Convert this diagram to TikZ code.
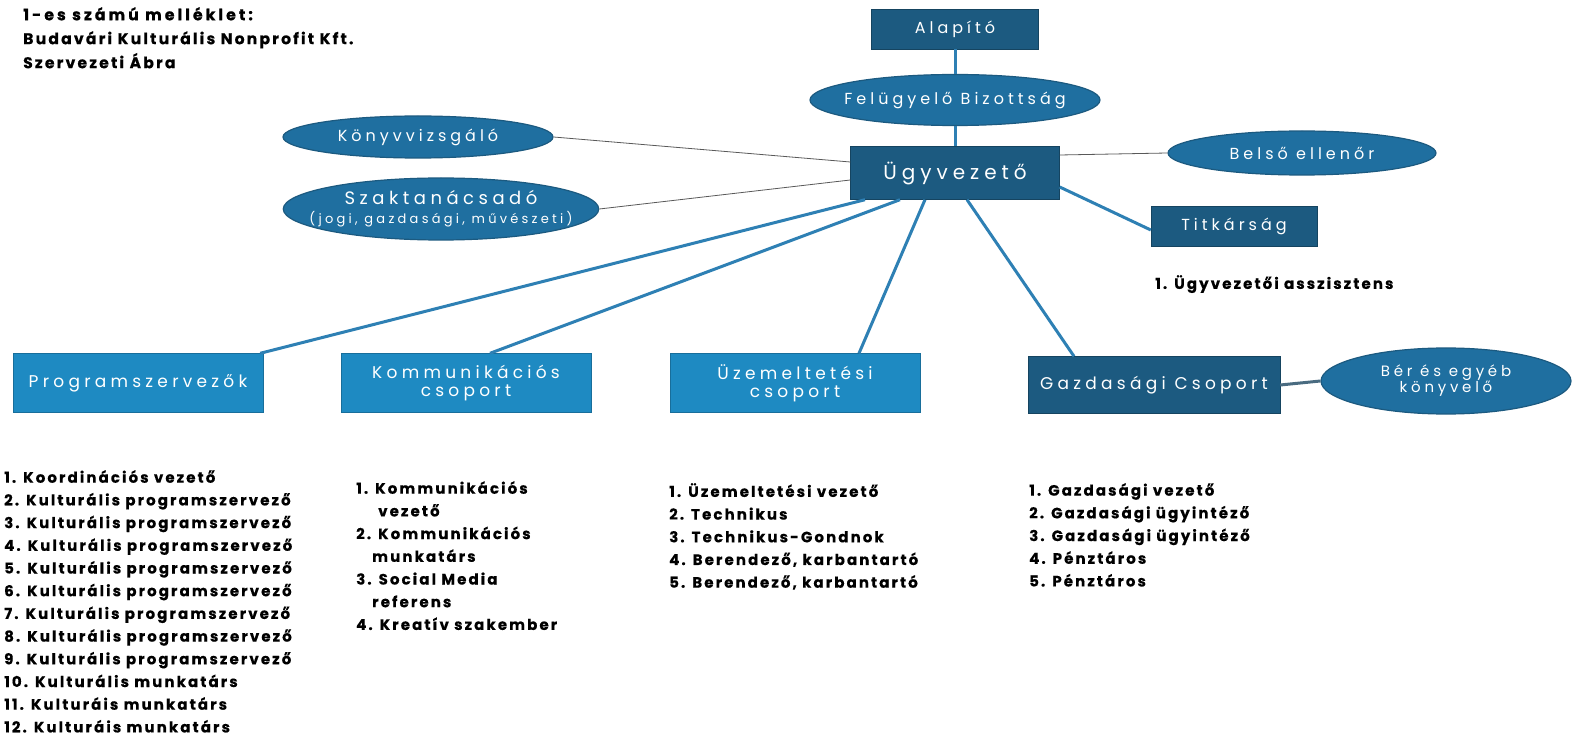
\documentclass[tikz,border=0pt]{standalone}
\usepackage{fontspec}
\setmainfont{Poppins}
\newfontfamily\dobozfont[LetterSpace=25]{Poppins}
\newfontfamily\listafont[LetterSpace=14, BoldFeatures={FakeBold=0.4}]{Poppins}
\newfontfamily\cimfont[LetterSpace=20, BoldFeatures={FakeBold=1.4}]{Poppins}
\usetikzlibrary{shapes.geometric}
\definecolor{sotetkek}{HTML}{1C5A80}
\definecolor{kek}{HTML}{1F6FA0}
\definecolor{vilagoskek}{HTML}{1E8AC2}
\definecolor{vonalkek}{HTML}{2E80B4}

\begin{document}
\begin{tikzpicture}[
    x=1pt, y=-1pt,
    sotetdoboz/.style={draw=sotetkek!75!black, fill=sotetkek, text=white, inner sep=0pt, align=center,
      font=\dobozfont\fontsize{16}{18}\selectfont},
    vilagosdoboz/.style={draw=vilagoskek!80!black, fill=vilagoskek, text=white, inner sep=0pt, align=center,
      minimum width=250pt, minimum height=59pt, font=\dobozfont\fontsize{17}{18}\selectfont},
    ellipszis/.style={ellipse, draw=sotetkek, line width=1.2pt, fill=kek, text=white, inner sep=0pt, align=center,
      font=\dobozfont\fontsize{16}{18}\selectfont},
    lista/.style={anchor=north west, inner sep=0pt, align=left,
      font=\listafont\bfseries\fontsize{15}{22.7}\selectfont},
    vonal/.style={draw=vonalkek, line width=3pt},
    vekonyvonal/.style={draw=black!65, line width=0.8pt}
  ]
    \fill[white] (0,0) rectangle (1572,735);
    \useasboundingbox (0,0) rectangle (1572,735);

    % cim
    \node[lista, font=\listafont\bfseries\fontsize{15.6}{24}\selectfont] (cim) at (23,7)
      {{\cimfont 1-es számú melléklet:}\\Budavári Kulturális Nonprofit Kft.\\Szervezeti Ábra};

    % vezetes
    \node[sotetdoboz, minimum width=167pt, minimum height=40pt] (alapito) at (955,29) {Alapító};
    \node[ellipszis, minimum width=290pt, minimum height=51pt, inner xsep=-11pt] (felugyelo) at (955,100)
      {Felügyelő Bizottság};
    \node[sotetdoboz, minimum width=209pt, minimum height=53pt,
      font=\dobozfont\fontsize{20}{22}\selectfont] (ugyvezeto) at (955,173) {Ügyvezető};
    \node[ellipszis, minimum width=270pt, minimum height=42pt] (konyvvizsgalo) at (418,137) {Könyvvizsgáló};
    \node[ellipszis, minimum width=315pt, minimum height=62pt, inner xsep=-20pt,
      font=\dobozfont\fontsize{18}{19}\selectfont]
      (szaktanacsado) at (441,209) {Szaktanácsadó\\{\fontsize{13}{14}\selectfont(jogi, gazdasági, művészeti)}};
    \node[ellipszis, minimum width=268pt, minimum height=44pt] (belso) at (1302,153) {Belső ellenőr};
    \node[sotetdoboz, minimum width=166pt, minimum height=40pt] (titkarsag) at (1234,226) {Titkárság};
    \node[lista] (asszisztens) at (1155,275) {1. Ügyvezetői asszisztens};

    % csoportok
    \node[vilagosdoboz] (program) at (138,383) {Programszervezők};
    \node[vilagosdoboz] (kommunikacio) at (466,383) {Kommunikációs\\csoport};
    \node[vilagosdoboz] (uzemeltetes) at (795,383) {Üzemeltetési\\csoport};
    \node[sotetdoboz, minimum width=252pt, minimum height=57pt,
      font=\dobozfont\fontsize{17}{18}\selectfont] (gazdasagi) at (1154,385) {Gazdasági Csoport};
    \node[ellipszis, minimum width=250pt, minimum height=66pt,
      font=\dobozfont\fontsize{15}{16}\selectfont] (konyvelo) at (1446,381) {Bér és egyéb\\könyvelő};

    % munkakorok
    \node[lista] (programlista) at (4,470) {1. Koordinációs vezető\\
      2. Kulturális programszervező\\3. Kulturális programszervező\\
      4. Kulturális programszervező\\5. Kulturális programszervező\\
      6. Kulturális programszervező\\7. Kulturális programszervező\\
      8. Kulturális programszervező\\9. Kulturális programszervező\\
      10. Kulturális munkatárs\\11. Kulturáis munkatárs\\12. Kulturáis munkatárs};
    \node[lista] (kommunikaciolista) at (356,481) {1. Kommunikációs\\\hspace*{22pt}vezető\\
      2. Kommunikációs\\\hspace*{16pt}munkatárs\\3. Social Media\\\hspace*{16pt}referens\\
      4. Kreatív szakember};
    \node[lista] (uzemeltetеslista) at (669,483) {1. Üzemeltetési vezető\\2. Technikus\\
      3. Technikus-Gondnok\\4. Berendező, karbantartó\\5. Berendező, karbantartó};
    \node[lista] (gazdasagilista) at (1029,483) {1. Gazdasági vezető\\2. Gazdasági ügyintéző\\
      3. Gazdasági ügyintéző\\4. Pénztáros\\5. Pénztáros};

    \draw[vonal] (alapito) -- (felugyelo);
    \draw[vonal] (felugyelo) -- (ugyvezeto);
    \draw[vekonyvonal] (konyvvizsgalo.east) -- ([yshift=11pt]ugyvezeto.west);
    \draw[vekonyvonal] (szaktanacsado.east) -- ([yshift=-7pt]ugyvezeto.west);
    \draw[vekonyvonal] ([yshift=18pt]ugyvezeto.east) -- (belso.west);
    \draw[vonal] ([yshift=-14pt]ugyvezeto.east) -- ([yshift=-4pt]titkarsag.west);
    \draw[vonal] ([xshift=-90pt]ugyvezeto.south) -- ([xshift=-3pt]program.north east);
    \draw[vonal] ([xshift=-55pt]ugyvezeto.south) -- ([xshift=24pt]kommunikacio.north);
    \draw[vonal] ([xshift=-30pt]ugyvezeto.south) -- ([xshift=64pt]uzemeltetes.north);
    \draw[vonal] ([xshift=12pt]ugyvezeto.south) -- ([xshift=-80pt]gazdasagi.north);
    \draw[vonal, draw=sotetkek!55!gray] (gazdasagi.east) -- (konyvelo.west);
  \end{tikzpicture}
\end{document}
